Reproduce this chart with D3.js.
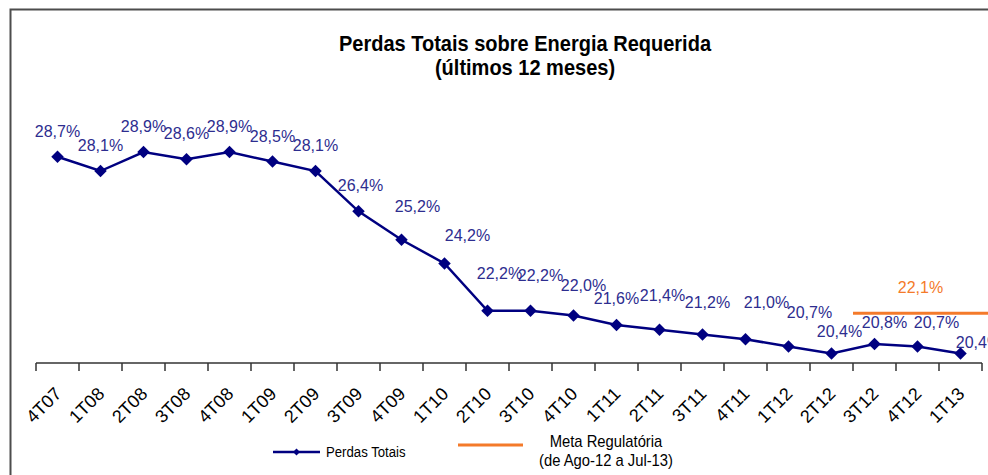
<!DOCTYPE html>
<html>
<head>
<meta charset="utf-8">
<script src="https://cdn.jsdelivr.net/npm/d3@7"></script>
<style>
  body { margin: 0; background: #fff; }
  svg { display: block; }
  .title { font-family: "Liberation Sans", Arial, sans-serif; font-weight: bold; font-size: 22px; fill: #000; }
  .tick-label { font-family: "Liberation Sans", Arial, sans-serif; font-size: 18px; fill: #000; }
  .data-label { font-family: "Liberation Sans", Arial, sans-serif; font-size: 16px; fill: #2d2d8f; }
  .meta-label { font-family: "Liberation Sans", Arial, sans-serif; font-size: 16px; fill: #f47a2a; }
  .legend-text { font-family: "Liberation Sans", Arial, sans-serif; fill: #000; }
</style>
</head>
<body>
<svg id="chart"></svg>
<script>
// data
const categories = ['4T07', '1T08', '2T08', '3T08', '4T08', '1T09', '2T09', '3T09', '4T09', '1T10', '2T10',
  '3T10', '4T10', '1T11', '2T11', '3T11', '4T11', '1T12', '2T12', '3T12', '4T12', '1T13'];
const perdasTotais = [28.7, 28.1, 28.9, 28.6, 28.9, 28.5, 28.1, 26.4, 25.2, 24.2, 22.2,
  22.2, 22.0, 21.6, 21.4, 21.2, 21.0, 20.7, 20.4, 20.8, 20.7, 20.4];
const metaCategories = ['3T12', '4T12', '1T13'];
const metaValue = 22.1;
const titleLines = ['Perdas Totais sobre Energia Requerida', '(últimos 12 meses)'];
const legendMeta = ['Meta Regulatória', '(de Ago-12 a Jul-13)'];

// label nudges (the original has a few labels moved by hand)
const labelDx = [0, 0, 0, 0, 0, 0, 0, 2, 16, 23, 12, 10, 10, 0, 3, 5, 21, 21, 8, 10, 19, 18];
const labelDy = [0, 0, 0, 0, 0, 0, 0, 0, -8, -2, -12, -10, -5, -1, -9, -7, -11, -8, 3, 4, 2, 14];

const fmt = v => d3.format('.1f')(v).replace('.', ',') + '%';

const W = 988, H = 475;
const margin = {top: 126, left: 36, right: 6, bottom: 112};
const svg = d3.select('#chart').attr('width', W).attr('height', H);

svg.append('rect').attr('width', W).attr('height', H).attr('fill', '#fff');

// frame (right and bottom edges are cut off in the original)
svg.append('path')
    .attr('d', 'M10.5,' + H + 'V9.5H' + W)
    .attr('fill', 'none')
    .attr('stroke', '#4d4d4d')
    .attr('stroke-width', 2);

// title (condensed look of the original)
svg.append('g')
    .attr('transform', 'translate(525,0) scale(0.91,1)')
  .append('text')
    .attr('class', 'title')
    .attr('text-anchor', 'middle')
    .selectAll('tspan')
    .data(titleLines)
    .join('tspan')
    .attr('x', 0)
    .attr('y', (d, i) => 51 + i * 24)
    .text(d => d);

// scales
const x = d3.scaleBand()
    .domain(categories)
    .range([margin.left, W - margin.right])
    .padding(0);
const y = d3.scaleLinear()
    .domain([20, 30])
    .range([H - margin.bottom, margin.top]);
const cx = c => x(c) + x.bandwidth() / 2;

// x axis: ticks between categories
const axisY = y(20);
const axisG = svg.append('g').attr('class', 'axis');
axisG.append('line')
    .attr('x1', x.range()[0]).attr('x2', x.range()[1])
    .attr('y1', axisY).attr('y2', axisY)
    .attr('stroke', '#333').attr('stroke-width', 1.5);
const boundaries = categories.map(c => x(c)).concat([x.range()[1]]);
axisG.selectAll('line.tick')
    .data(boundaries)
    .join('line')
    .attr('class', 'tick')
    .attr('x1', d => d).attr('x2', d => d)
    .attr('y1', axisY).attr('y2', axisY + 8)
    .attr('stroke', '#333').attr('stroke-width', 1.5);
axisG.selectAll('text')
    .data(categories)
    .join('text')
    .attr('class', 'tick-label')
    .attr('text-anchor', 'end')
    .attr('transform', d => 'translate(' + (cx(d) + 5) + ',' + (axisY + 32) + ') rotate(-45)')
    .text(d => d);

// meta regulatória line
const metaX0 = x(metaCategories[0]);
const metaX1 = W;
svg.append('line')
    .attr('x1', metaX0).attr('x2', metaX1)
    .attr('y1', y(metaValue)).attr('y2', y(metaValue))
    .attr('stroke', '#f47a2a').attr('stroke-width', 3);
svg.append('text')
    .attr('class', 'meta-label')
    .attr('x', (metaX0 + metaX1) / 2)
    .attr('y', y(metaValue) - 20)
    .attr('text-anchor', 'middle')
    .text(fmt(metaValue));

// perdas totais series
const series = categories.map((c, i) => ({cat: c, v: perdasTotais[i], i: i}));
const line = d3.line()
    .x(d => cx(d.cat))
    .y(d => y(d.v));
svg.append('path')
    .datum(series)
    .attr('fill', 'none')
    .attr('stroke', '#000080')
    .attr('stroke-width', 2.5)
    .attr('d', line);

const diamond = d3.symbol().type(d3.symbolSquare).size(78);
svg.selectAll('path.marker')
    .data(series)
    .join('path')
    .attr('class', 'marker')
    .attr('d', diamond)
    .attr('fill', '#000080')
    .attr('transform', d => 'translate(' + cx(d.cat) + ',' + y(d.v) + ') rotate(45)');

svg.selectAll('text.data-label')
    .data(series)
    .join('text')
    .attr('class', 'data-label')
    .attr('x', d => cx(d.cat) + labelDx[d.i])
    .attr('y', d => y(d.v) - 20 + labelDy[d.i])
    .attr('text-anchor', 'middle')
    .text(d => fmt(d.v));

// legend
const leg = svg.append('g');
leg.append('line')
    .attr('x1', 273).attr('x2', 320)
    .attr('y1', 452).attr('y2', 452)
    .attr('stroke', '#000080').attr('stroke-width', 2.5);
leg.append('path')
    .attr('d', d3.symbol().type(d3.symbolSquare).size(24))
    .attr('fill', '#000080')
    .attr('transform', 'translate(296.5,452) rotate(45)');
leg.append('g')
    .attr('transform', 'translate(326,457) scale(0.88,1)')
  .append('text')
    .attr('class', 'legend-text')
    .style('font-size', '15px')
    .text('Perdas Totais');

leg.append('line')
    .attr('x1', 458).attr('x2', 523)
    .attr('y1', 445).attr('y2', 445)
    .attr('stroke', '#f47a2a').attr('stroke-width', 3);
leg.append('g')
    .attr('transform', 'translate(606,0) scale(0.87,1)')
  .append('text')
    .attr('class', 'legend-text')
    .attr('text-anchor', 'middle')
    .style('font-size', '17px')
    .selectAll('tspan')
    .data(legendMeta)
    .join('tspan')
    .attr('x', 0)
    .attr('y', (d, i) => 447 + i * 19)
    .text(d => d);
</script>
</body>
</html>
